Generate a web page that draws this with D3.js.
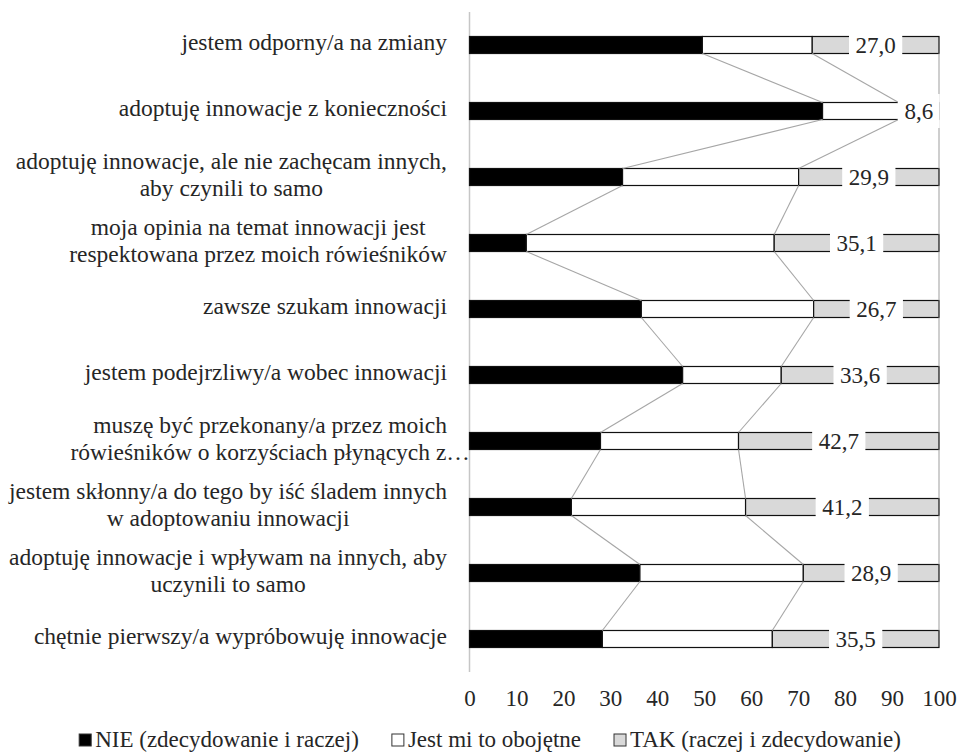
<!DOCTYPE html>
<html>
<head>
<meta charset="utf-8">
<script src="https://cdn.jsdelivr.net/npm/d3@7"></script>
<style>
  body { margin: 0; background: #fff; }
  svg { display: block; }
  text { font-family: "Liberation Serif", "Times New Roman", serif; fill: #262626; }
</style>
</head>
<body>
<svg id="chart" width="960" height="755"></svg>
<script>
// Category labels (top to bottom); "\n" marks a line break in the label
const categories = [
  "jestem odporny/a na zmiany",
  "adoptuję innowacje z konieczności",
  "adoptuję innowacje, ale nie zachęcam innych,\naby czynili to samo",
  "moja opinia na temat innowacji jest\nrespektowana przez moich rówieśników",
  "zawsze szukam innowacji",
  "jestem podejrzliwy/a wobec innowacji",
  "muszę być przekonany/a przez moich\nrówieśników o korzyściach płynących z…",
  "jestem skłonny/a do tego by iść śladem innych\nw adoptowaniu innowacji",
  "adoptuję innowacje i wpływam na innych, aby\nuczynili to samo",
  "chętnie pierwszy/a wypróbowuję innowacje"
];

const seriesNames = ["NIE (zdecydowanie i raczej)", "Jest mi to obojętne", "TAK (raczej i zdecydowanie)"];

// Shares in percent
const nieValues      = [49.6, 75.2, 32.6, 12.1, 36.6, 45.4, 27.9, 21.7, 36.3, 28.3];
const obojetneValues = [23.4, 16.2, 37.5, 52.8, 36.7, 21.0, 29.4, 37.1, 34.8, 36.2];
const takValues      = [27.0,  8.6, 29.9, 35.1, 26.7, 33.6, 42.7, 41.2, 28.9, 35.5];

const xTicks = [0, 10, 20, 30, 40, 50, 60, 70, 80, 90, 100];

const seriesFill = ["#000000", "#ffffff", "#d9d9d9"];

const svg = d3.select("#chart");
const FONT = 23;
const CAT_FONT = 23.5;
const LEGEND_FONT = 23;

const plot = { left: 469.5, right: 939, top: 12, bottom: 672 };
const barH = 17;

const x = d3.scaleLinear().domain([0, 100]).range([plot.left, plot.right]);
const y = d3.scaleBand().domain(d3.range(categories.length)).range([plot.top, plot.bottom]);
const cy = i => y(i) + y.bandwidth() / 2;

// Stack the three series
const rows = categories.map((c, i) => ({
  i, nie: nieValues[i], obojetne: obojetneValues[i], tak: takValues[i]
}));
const stacked = d3.stack().keys(["nie", "obojetne", "tak"])(rows);

// Vertical category axis line
const yAxis = d3.axisLeft(y).tickSize(0).tickFormat("");
const gy = svg.append("g").attr("transform", `translate(${plot.left},0)`).call(yAxis);
gy.select(".domain").attr("stroke", "#c6c6c6").attr("stroke-width", 1.5)
  .attr("d", `M0,${plot.top}V${plot.bottom}`);

// Bars
stacked.forEach((layer, k) => {
  svg.append("g").selectAll("rect").data(layer).join("rect")
    .attr("x", d => x(d[0]))
    .attr("y", (d, i) => cy(i) - barH / 2)
    .attr("width", d => x(d[1]) - x(d[0]))
    .attr("height", barH)
    .attr("fill", seriesFill[k])
    .attr("stroke", "#111")
    .attr("stroke-width", 1.2);
});

// Series lines joining the segment ends of neighbouring bars
const seriesLines = svg.append("g").attr("stroke", "#a6a6a6").attr("stroke-width", 1.1).attr("fill", "none");
stacked.forEach(layer => {
  for (let i = 0; i < layer.length - 1; i++) {
    seriesLines.append("line")
      .attr("x1", x(layer[i][1])).attr("y1", cy(i) + barH / 2)
      .attr("x2", x(layer[i + 1][1])).attr("y2", cy(i + 1) - barH / 2);
  }
});

// Value labels on the TAK segment
const fmt = v => v.toFixed(1).replace(".", ",");
const tak = stacked[2];
const lbl = svg.append("g");
tak.forEach((d, i) => {
  const g = lbl.append("g");
  const cx = x((d[0] + d[1]) / 2);
  const rect = g.append("rect").attr("fill", "#fff");
  const t = g.append("text")
    .attr("x", cx).attr("y", cy(i) + 8)
    .attr("text-anchor", "middle")
    .attr("font-size", FONT)
    .text(fmt(takValues[i]));
  const w = t.node().getComputedTextLength() + 13;
  rect.attr("x", cx - w / 2).attr("y", cy(i) - 17).attr("width", w).attr("height", 34);
});

// Category labels, lines centred within a right-aligned block
const catG = svg.append("g");
const labelRight = 447;
const lineH = 27;
categories.forEach((c, i) => {
  const lines = c.split("\n");
  const g = catG.append("g");
  const texts = lines.map(l => g.append("text").attr("font-size", CAT_FONT).attr("text-anchor", "middle").text(l));
  const widths = texts.map(t => t.node().getComputedTextLength());
  const blockW = d3.max(widths.filter((w, k) => !lines[k].endsWith("…"))) || d3.max(widths);
  const centerX = labelRight - blockW / 2;
  const n = lines.length;
  texts.forEach((t, k) => {
    t.attr("x", centerX).attr("y", cy(i) + 5 + (k - (n - 1) / 2) * lineH);
  });
});

// Horizontal value axis
const xAxis = d3.axisBottom(x).tickValues(xTicks).tickSize(0).tickPadding(0).tickFormat(d3.format("d"));
const gx = svg.append("g").attr("transform", "translate(0,706)").call(xAxis);
gx.select(".domain").remove();
gx.selectAll("text").attr("font-size", FONT).attr("dy", 0).attr("y", 0)
  .style("font-family", "'Liberation Serif', 'Times New Roman', serif").attr("fill", "#262626");

// Legend, centred below the chart
const legend = svg.append("g");
const legendBase = 747;
const box = 12, boxGap = 4, itemGap = 33;
const items = seriesNames.map((name, k) => {
  const g = legend.append("g");
  g.append("rect").attr("width", box).attr("height", box)
    .attr("y", legendBase - 13)
    .attr("fill", seriesFill[k]).attr("stroke", "#333").attr("stroke-width", 1);
  const t = g.append("text").attr("font-size", LEGEND_FONT).attr("x", box + boxGap).attr("y", legendBase).text(name);
  return { g, w: box + boxGap + t.node().getComputedTextLength() };
});
const totalW = d3.sum(items, d => d.w) + itemGap * (items.length - 1);
let lx = 490 - totalW / 2;
items.forEach(it => {
  it.g.attr("transform", `translate(${lx},0)`);
  lx += it.w + itemGap;
});
</script>
</body>
</html>
